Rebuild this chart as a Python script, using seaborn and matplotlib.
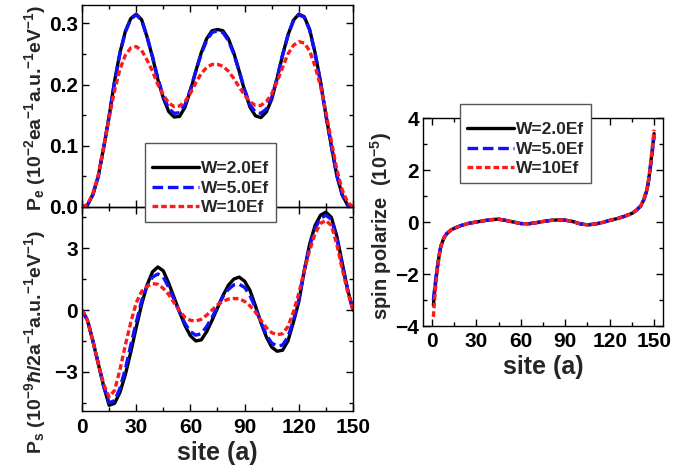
import matplotlib
matplotlib.use("Agg")
import matplotlib.pyplot as plt
import seaborn as sns
import pandas as pd
from matplotlib.ticker import MultipleLocator
from matplotlib.lines import Line2D

# ---------------- data ----------------
site = [0, 3, 6, 9, 12, 15, 18, 21, 24, 27, 30, 33, 36, 39, 42, 45, 48, 51, 54, 57,
        60, 63, 66, 69, 72, 75, 78, 81, 84, 87, 90, 93, 96, 99, 102, 105, 108, 111,
        114, 117, 120, 123, 126, 129, 132, 135, 138, 141, 144, 147, 150]

labels = ["W=2.0Ef", "W=5.0Ef", "W=10Ef"]

pe_w2 = [0, 0.003, 0.02, 0.05, 0.097, 0.148, 0.205, 0.252, 0.287, 0.308, 0.315, 0.306,
         0.278, 0.245, 0.208, 0.178, 0.156, 0.147, 0.148, 0.163, 0.19, 0.222, 0.252,
         0.275, 0.288, 0.29, 0.288, 0.275, 0.252, 0.222, 0.19, 0.163, 0.149, 0.146,
         0.155, 0.176, 0.21, 0.248, 0.281, 0.305, 0.315, 0.311, 0.29, 0.252, 0.205,
         0.15, 0.1, 0.052, 0.02, 0.003, 0]
pe_w5 = [0, 0.003, 0.02, 0.05, 0.097, 0.148, 0.204, 0.251, 0.286, 0.307, 0.314, 0.305,
         0.278, 0.246, 0.21, 0.181, 0.161, 0.153, 0.154, 0.167, 0.192, 0.222, 0.25,
         0.272, 0.285, 0.288, 0.285, 0.272, 0.25, 0.222, 0.192, 0.167, 0.155, 0.153,
         0.16, 0.179, 0.211, 0.248, 0.28, 0.304, 0.314, 0.31, 0.289, 0.251, 0.204,
         0.15, 0.1, 0.052, 0.02, 0.003, 0]
pe_w10 = [0, 0.004, 0.022, 0.052, 0.098, 0.145, 0.19, 0.225, 0.248, 0.26, 0.262, 0.256,
          0.24, 0.222, 0.2, 0.183, 0.17, 0.164, 0.165, 0.172, 0.186, 0.203, 0.218,
          0.228, 0.233, 0.233, 0.23, 0.222, 0.21, 0.196, 0.183, 0.172, 0.166, 0.166,
          0.172, 0.185, 0.205, 0.228, 0.25, 0.264, 0.27, 0.268, 0.255, 0.23, 0.198,
          0.155, 0.108, 0.062, 0.028, 0.008, 0]

ps_w2 = [0, -0.5, -1.5, -2.6, -3.7, -4.62, -4.53, -4.0, -3.13, -2.04, -0.85, 0.27,
         1.21, 1.85, 2.09, 1.9, 1.3, 0.6, -0.1, -0.75, -1.25, -1.5, -1.45, -1.05,
         -0.5, 0.1, 0.7, 1.2, 1.5, 1.6, 1.4, 0.95, 0.2, -0.6, -1.3, -1.8, -2.0,
         -1.95, -1.5, -0.6, 0.4, 1.9, 3.2, 4.1, 4.6, 4.75, 4.5, 3.6, 2.3, 1.0, 0]
ps_w5 = [0, -0.48, -1.48, -2.6, -3.7, -4.5, -4.4, -3.8, -2.85, -1.7, -0.6, 0.45,
         1.15, 1.6, 1.75, 1.6, 1.1, 0.5, -0.1, -0.65, -1.05, -1.22, -1.15, -0.8,
         -0.35, 0.15, 0.65, 1.0, 1.22, 1.25, 1.1, 0.7, 0.1, -0.6, -1.2, -1.6, -1.75,
         -1.7, -1.3, -0.5, 0.5, 1.9, 3.1, 3.95, 4.45, 4.6, 4.4, 3.5, 2.2, 1.0, 0]
ps_w10 = [0, -0.5, -1.5, -2.6, -3.6, -4.22, -3.9, -2.9, -1.7, -0.6, 0.35, 0.9,
          1.15, 1.28, 1.25, 1.05, 0.75, 0.35, -0.05, -0.35, -0.5, -0.53, -0.45, -0.25,
          0.0, 0.25, 0.42, 0.53, 0.56, 0.55, 0.42, 0.2, -0.1, -0.5, -0.85, -1.1, -1.2,
          -1.15, -0.8, -0.1, 0.8, 1.9, 2.9, 3.7, 4.2, 4.35, 4.1, 3.2, 2.0, 0.9, 0]

site_r = [1, 2, 3, 4, 5, 6, 8, 10, 13, 16, 20, 25, 30, 35, 40, 45, 50, 55, 60, 65, 70,
          75, 80, 85, 90, 95, 100, 105, 110, 115, 120, 125, 130, 135, 138, 141, 143,
          145, 146, 147, 148, 149, 150]
sp_w2 = [-3.2, -2.6, -2.1, -1.65, -1.25, -0.95, -0.62, -0.45, -0.3, -0.22, -0.13, -0.05,
         0.0, 0.05, 0.09, 0.11, 0.06, 0.0, -0.06, -0.07, -0.03, 0.02, 0.06, 0.08, 0.07,
         0.02, -0.07, -0.11, -0.08, -0.02, 0.06, 0.13, 0.22, 0.33, 0.45, 0.62, 0.85,
         1.2, 1.5, 1.9, 2.4, 2.9, 3.4]
sp_w5 = [-3.0, -2.45, -2.0, -1.6, -1.23, -0.94, -0.62, -0.45, -0.3, -0.22, -0.13, -0.05,
         0.0, 0.05, 0.09, 0.11, 0.06, 0.0, -0.06, -0.07, -0.03, 0.02, 0.06, 0.08, 0.07,
         0.02, -0.07, -0.11, -0.08, -0.02, 0.06, 0.13, 0.22, 0.33, 0.45, 0.62, 0.85,
         1.18, 1.46, 1.85, 2.33, 2.8, 3.3]
sp_w10 = [-3.65, -2.85, -2.2, -1.7, -1.28, -0.97, -0.63, -0.45, -0.3, -0.22, -0.13, -0.05,
          0.0, 0.05, 0.09, 0.11, 0.06, 0.0, -0.06, -0.07, -0.03, 0.02, 0.06, 0.08, 0.07,
          0.02, -0.07, -0.11, -0.08, -0.02, 0.06, 0.13, 0.22, 0.33, 0.45, 0.62, 0.86,
          1.22, 1.53, 1.95, 2.45, 3.0, 3.55]

# ---------------- style ----------------
sns.set_theme(style="ticks")
plt.rcParams.update({
    "font.family": ["Liberation Sans", "DejaVu Sans"],
    "font.weight": "bold",
    "axes.labelweight": "bold",
    "mathtext.fontset": "custom",
    "mathtext.rm": "Liberation Sans:bold",
    "mathtext.it": "Liberation Sans:italic:bold",
    "mathtext.bf": "Liberation Sans:bold",
    "mathtext.default": "rm",
    "axes.linewidth": 1.0,
    "axes.edgecolor": "black",
    "xtick.direction": "in",
    "ytick.direction": "in",
    "xtick.color": "black",
    "ytick.color": "black",
})

colors = ["black", "#1010ff", "#ff1a1a"]
styles = ["-", (0, (3.2, 1.4)), (0, (1.7, 0.9))]
LW = 2.4

fig = plt.figure(figsize=(6.99, 4.72), dpi=100)
W, H = 699, 472


def px_axes(l, r, t, b):
    return fig.add_axes([l / W, 1 - b / H, (r - l) / W, (b - t) / H])


ax_top = px_axes(82, 353, 5, 207)
ax_bot = px_axes(82, 353, 207, 411)
ax_r = px_axes(423, 663, 118, 326)
ax_top.set_zorder(3)
ax_top.patch.set_alpha(0)


def draw(ax, x, series):
    for ys, c, ls, lab in zip(series, colors, styles, labels):
        df = pd.DataFrame({"site": x, "val": ys})
        sns.lineplot(data=df, x="site", y="val", ax=ax, color=c, lw=LW,
                     legend=False, sort=False)
        ax.lines[-1].set_linestyle(ls)


draw(ax_top, site, [pe_w2, pe_w5, pe_w10])
draw(ax_bot, site, [ps_w2, ps_w5, ps_w10])
draw(ax_r, site_r, [sp_w2, sp_w5, sp_w10])

TICK_FS = 15


def style_ax(ax):
    ax.tick_params(which="both", direction="in", top=True, right=True,
                   labelsize=TICK_FS, width=1.0)
    ax.tick_params(axis="y", pad=3)
    ax.tick_params(axis="x", pad=5)
    ax.tick_params(which="major", length=5)
    ax.tick_params(which="minor", length=3)
    for s in ax.spines.values():
        s.set_linewidth(1.0)
        s.set_color("black")
    for t in ax.get_xticklabels() + ax.get_yticklabels():
        t.set_fontweight("bold")


LABEL_FS = 14
XLABEL_FS = 18

# top panel
ax_top.set_xlim(0, 150)
ax_top.set_ylim(0, 0.33)
ax_top.xaxis.set_major_locator(MultipleLocator(30))
ax_top.xaxis.set_minor_locator(MultipleLocator(15))
ax_top.yaxis.set_minor_locator(MultipleLocator(0.05))
ax_top.set_yticks([0.0, 0.1, 0.2, 0.3])
ax_top.set_yticklabels(["0.0", "0.1", "0.2", "0.3"])
style_ax(ax_top)
ax_top.tick_params(labelbottom=False)
ax_top.set_xlabel("")
ax_top.set_ylabel(r"P$_{e}$ (10$^{-2}$ea$^{-1}$a.u.$^{-1}$eV$^{-1}$)",
                  fontsize=LABEL_FS, fontweight="bold")
ax_top.yaxis.set_label_coords(-0.125, 0.49)

# bottom panel
ax_bot.set_xlim(0, 150)
ax_bot.set_ylim(-4.9, 5.0)
ax_bot.xaxis.set_major_locator(MultipleLocator(30))
ax_bot.xaxis.set_minor_locator(MultipleLocator(15))
ax_bot.yaxis.set_major_locator(MultipleLocator(3))
ax_bot.yaxis.set_minor_locator(MultipleLocator(1.5))
style_ax(ax_bot)
ax_bot.set_xlabel("site (a)", fontsize=XLABEL_FS, fontweight="bold", labelpad=3)
ax_bot.set_ylabel(r"P$_{s}$ (10$^{-9}$$\mathit{ħ}$/2a$^{-1}$a.u.$^{-1}$eV$^{-1}$)",
                  fontsize=LABEL_FS, fontweight="bold")
ax_bot.yaxis.set_label_coords(-0.125, 0.34)

# right panel
ax_r.set_xlim(-6, 156)
ax_r.set_ylim(-4, 4)
ax_r.xaxis.set_major_locator(MultipleLocator(30))
ax_r.xaxis.set_minor_locator(MultipleLocator(15))
ax_r.yaxis.set_major_locator(MultipleLocator(2))
ax_r.yaxis.set_minor_locator(MultipleLocator(1))
style_ax(ax_r)
ax_r.tick_params(axis="x", pad=4)
ax_r.set_xlabel("site (a)", fontsize=XLABEL_FS, fontweight="bold", labelpad=3)
ax_r.set_ylabel(r"spin polarize  (10$^{-5}$)", fontsize=14.5, fontweight="bold")
ax_r.yaxis.set_label_coords(-0.12, 0.48)

# legends
handles = [Line2D([], [], color=c, lw=LW, linestyle=ls) for c, ls in zip(colors, styles)]


def make_legend(ax, x0, y0):
    leg = ax.legend(handles, labels, loc="upper left",
                    bbox_to_anchor=(x0 / W, 1 - y0 / H), bbox_transform=fig.transFigure,
                    prop={"weight": "bold", "size": 12.5}, frameon=True, fancybox=False,
                    framealpha=1, edgecolor="#555555", handlelength=2.7,
                    handletextpad=0.1, labelspacing=0.25, borderpad=0.4,
                    borderaxespad=0, title=" ", title_fontsize=6)
    leg.get_frame().set_linewidth(1.0)
    return leg


make_legend(ax_top, 145, 143)
make_legend(ax_r, 460, 104)

fig.savefig("out.png", dpi=100)
